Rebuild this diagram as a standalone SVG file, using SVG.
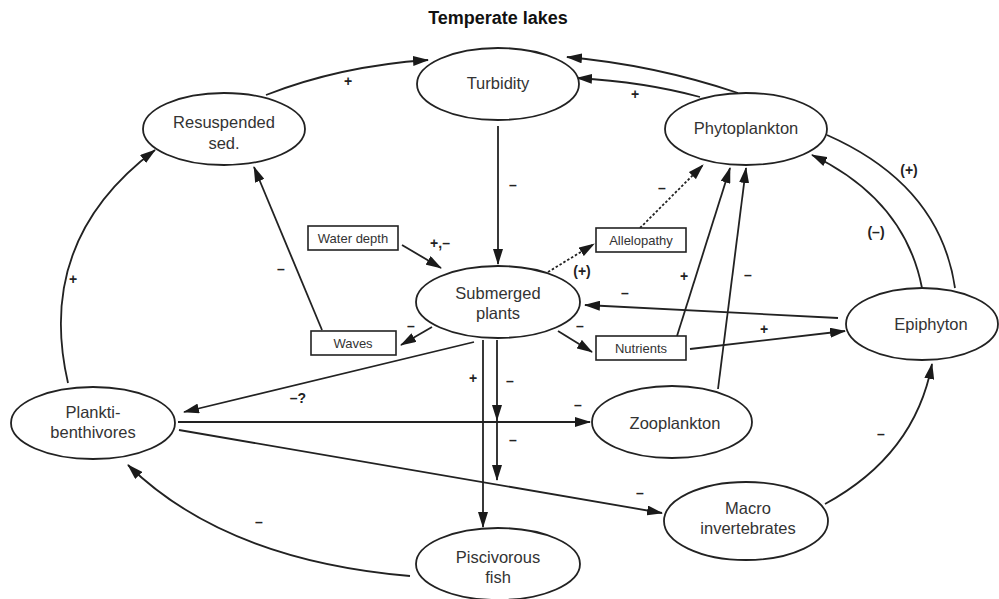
<svg xmlns="http://www.w3.org/2000/svg" width="999" height="599" viewBox="0 0 999 599">
<defs>
<marker id="ah" markerWidth="16" markerHeight="10" refX="15" refY="5" orient="auto" markerUnits="userSpaceOnUse">
<path d="M0,0 L16,5 L0,10 Z" fill="#1a1a1a"/>
</marker>
</defs>
<style>
.n ellipse{fill:#fff;stroke:#222;stroke-width:1.8}
.b rect{fill:#fff;stroke:#222;stroke-width:1.6}
.t{font-family:"Liberation Sans",Arial,sans-serif;font-size:16.5px;fill:#333;text-anchor:middle}
.bt{font-family:"Liberation Sans",Arial,sans-serif;font-size:13px;fill:#333;text-anchor:middle}
.c path{fill:none;stroke:#222;stroke-width:1.8}
.a{marker-end:url(#ah)}
.d{stroke-dasharray:2.5 2}
.l{font-family:"Liberation Sans",Arial,sans-serif;font-size:14px;font-weight:bold;fill:#222;text-anchor:middle}
</style>
<rect width="999" height="599" fill="#fff"/>
<text x="498" y="24" font-family="Liberation Sans,Arial,sans-serif" font-size="18" font-weight="bold" fill="#111" text-anchor="middle">Temperate lakes</text>

<g id="connectors" class="c">
<path class="a" d="M266,95 Q340,66 428,60"/>
<path class="a" d="M738,93 Q655,65 567,57"/>
<path class="a" d="M700,97 Q645,82 577,78"/>
<path class="a" d="M498,126 L498,264"/>
<path class="a" d="M402,245 L441,268"/>
<path class="a d" d="M548,272 L594,244"/>
<path class="a d" d="M640,228 L703,165"/>
<path class="a" d="M677,336 L730,168"/>
<path class="a" d="M718,389 L746,168"/>
<path class="a" d="M922,288 Q905,200 812,155"/>
<path d="M827,135 Q940,185 955,288"/>
<path class="a" d="M838,318 L585,305"/>
<path class="a" d="M690,349 L845,331"/>
<path class="a" d="M558,331 L592,352"/>
<path class="a" d="M432,327 L401,345"/>
<path class="a" d="M322,330 L254,167"/>
<path class="a" d="M474,342 L184,412"/>
<path class="a" d="M178,422 L590,422"/>
<path class="a" d="M179,430 L662,513"/>
<path class="a" d="M483,340 L483,527"/>
<path class="a" d="M497,340 L497,420"/>
<path class="a" d="M497,420 L497,480"/>
<path class="a" d="M410,576 Q225,560 128,465"/>
<path class="a" d="M68,383 Q35,240 155,150"/>
<path class="a" d="M825,504 Q915,455 932,364"/>
</g>

<g id="labels">
<text class="l" x="348" y="86">+</text>
<text class="l" x="635" y="99">+</text>
<text class="l" x="513" y="190">–</text>
<text class="l" x="440" y="248">+,–</text>
<text class="l" x="582" y="276">(+)</text>
<text class="l" x="662" y="193">–</text>
<text class="l" x="684" y="281">+</text>
<text class="l" x="748" y="280">–</text>
<text class="l" x="876" y="237">(–)</text>
<text class="l" x="909" y="175">(+)</text>
<text class="l" x="625" y="298">–</text>
<text class="l" x="764" y="334">+</text>
<text class="l" x="580" y="331">–</text>
<text class="l" x="411" y="331">–</text>
<text class="l" x="281" y="274">–</text>
<text class="l" x="298" y="403">–?</text>
<text class="l" x="578" y="410">–</text>
<text class="l" x="640" y="498">–</text>
<text class="l" x="473" y="383">+</text>
<text class="l" x="510" y="386">–</text>
<text class="l" x="513" y="445">–</text>
<text class="l" x="259" y="527">–</text>
<text class="l" x="73" y="284">+</text>
<text class="l" x="881" y="439">–</text>
</g>

<g id="turbidity" class="n"><ellipse cx="498" cy="84" rx="81" ry="36"/><text class="t" x="498" y="89">Turbidity</text></g>
<g id="resuspended" class="n"><ellipse cx="224" cy="129" rx="81" ry="36"/><text class="t" x="224" y="128">Resuspended</text><text class="t" x="224" y="149">sed.</text></g>
<g id="phytoplankton" class="n"><ellipse cx="746" cy="129" rx="81" ry="36"/><text class="t" x="746" y="134">Phytoplankton</text></g>
<g id="submerged" class="n"><ellipse cx="498" cy="302" rx="82" ry="36"/><text class="t" x="498" y="299">Submerged</text><text class="t" x="498" y="319">plants</text></g>
<g id="epiphyton" class="n"><ellipse cx="922" cy="324" rx="76" ry="36"/><text class="t" x="931" y="330">Epiphyton</text></g>
<g id="planktibenthivores" class="n"><ellipse cx="93" cy="423" rx="82" ry="36"/><text class="t" x="93" y="418">Plankti-</text><text class="t" x="93" y="438">benthivores</text></g>
<g id="zooplankton" class="n"><ellipse cx="672" cy="422" rx="80" ry="36"/><text class="t" x="675" y="429">Zooplankton</text></g>
<g id="macroinvertebrates" class="n"><ellipse cx="746" cy="521" rx="82" ry="39"/><text class="t" x="748" y="514">Macro</text><text class="t" x="748" y="534">invertebrates</text></g>
<g id="piscivorous" class="n"><ellipse cx="498" cy="564" rx="82" ry="36"/><text class="t" x="498" y="563">Piscivorous</text><text class="t" x="498" y="583">fish</text></g>

<g id="waterdepth" class="b"><rect x="308" y="226" width="90" height="24"/><text class="bt" x="353" y="243">Water depth</text></g>
<g id="waves" class="b"><rect x="311" y="331" width="85" height="24"/><text class="bt" x="353" y="348">Waves</text></g>
<g id="allelopathy" class="b"><rect x="596" y="228" width="90" height="24"/><text class="bt" x="641" y="245">Allelopathy</text></g>
<g id="nutrients" class="b"><rect x="596" y="336" width="90" height="24"/><text class="bt" x="641" y="353">Nutrients</text></g>
</svg>
